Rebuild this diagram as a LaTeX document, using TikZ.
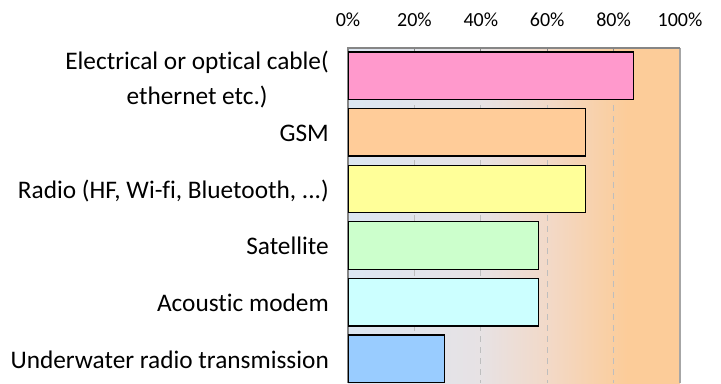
\documentclass[tikz,border=0pt]{standalone}
\usepackage{fontspec}
\setmainfont{Carlito}[RawFeature={-liga}]
\definecolor{cpink}{RGB}{255,153,204}
\definecolor{corange}{RGB}{255,204,153}
\definecolor{cyellow}{RGB}{255,255,153}
\definecolor{cgreen}{RGB}{204,255,204}
\definecolor{ccyan}{RGB}{204,255,255}
\definecolor{cblue}{RGB}{153,204,255}
\definecolor{gridgray}{RGB}{190,190,190}
\definecolor{axisgray}{RGB}{134,134,134}
\definecolor{bordergray}{RGB}{166,166,166}
\pgfdeclarehorizontalshading{bgshade}{100bp}{rgb(0bp)=(0.863,0.902,0.949); rgb(25bp)=(0.863,0.902,0.949); rgb(45bp)=(0.906,0.886,0.894); rgb(55bp)=(0.949,0.851,0.784); rgb(67bp)=(0.988,0.80,0.60); rgb(75bp)=(0.988,0.80,0.60); rgb(100bp)=(0.988,0.80,0.60)}
\tikzset{
  bar/.style={draw=black, line width=1.3bp, inner sep=0pt, minimum height=47.5bp, anchor=north west},
  lab/.style={font=\fontsize{25.3bp}{35bp}\selectfont, inner sep=0pt, text=black},
  axl/.style={font=\fontsize{20bp}{24bp}\selectfont, inner sep=0pt, anchor=base, text=black},
  gridln/.style={draw=gridgray, line width=1bp, dash pattern=on 6bp off 5bp},
  axisln/.style={draw=axisgray, line width=1.2bp}
}
\begin{document}
\begin{tikzpicture}[x=1bp,y=-1bp]
\useasboundingbox (0,0) rectangle (721,383);
% plot area
\shade[shading=bgshade] (348,48) rectangle (680,383);
\foreach \v in {1,...,4} {
  \draw[gridln] ({348+66.4*\v},50) -- ({348+66.4*\v},383);
}
\draw[draw=bordergray, line width=1.5bp] (680,48) -- (680,383);
\draw[axisln] (348,383) -- (348,48) -- (680,48);
\foreach \v in {1,...,4} {
  \draw[axisln] ({348+66.4*\v},48) -- ({348+66.4*\v},53);
}
% axis labels
\foreach \v/\t in {0/0, 1/20, 2/40, 3/60, 4/80, 5/100} {
  \node[axl] (ax\v) at ({348+66.4*\v},26) {\t\%};
}
% bars
\node[bar, fill=cpink,   minimum width={0.858*332bp}] (b1) at (348,51.3) {};
\node[bar, fill=corange, minimum width={0.714*332bp}] (b2) at (348,107.9) {};
\node[bar, fill=cyellow, minimum width={0.714*332bp}] (b3) at (348,164.5) {};
\node[bar, fill=cgreen,  minimum width={0.572*332bp}] (b4) at (348,221.1) {};
\node[bar, fill=ccyan,   minimum width={0.572*332bp}] (b5) at (348,277.7) {};
\node[bar, fill=cblue,   minimum width={0.288*332bp}] (b6) at (348,334.3) {};
% category labels
\node[lab, anchor=east, align=center] (l1) at (329,80) {Electrical or optical cable(\\ethernet etc.)};
\node[lab, anchor=base east] (l2) at (329,141.6) {GSM};
\node[lab, anchor=base east] (l3) at (329,198.2) {Radio (HF, Wi-fi, Bluetooth, ...)};
\node[lab, anchor=base east] (l4) at (329,254.8) {Satellite};
\node[lab, anchor=base east] (l5) at (329,311.4) {Acoustic modem};
\node[lab, anchor=base east] (l6) at (329,368) {Underwater radio transmission};
\end{tikzpicture}
\end{document}
